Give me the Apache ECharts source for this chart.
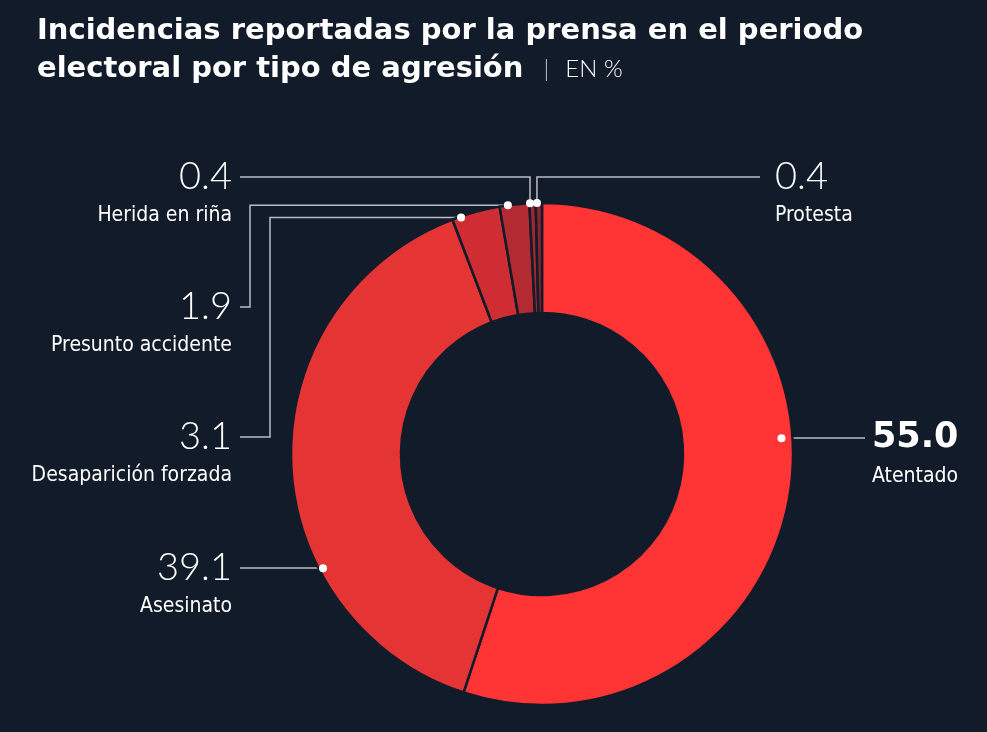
<!DOCTYPE html>
<html>
<head>
<meta charset="utf-8">
<script src="https://cdn.jsdelivr.net/npm/echarts@6/dist/echarts.min.js"></script>
<style>
  html, body { margin: 0; padding: 0; background: #111b29; }
  #chart { width: 987px; height: 732px; }
</style>
</head>
<body>
<div id="chart"></div>
<script>
// datos
var categorias = ['Atentado', 'Asesinato', 'Desaparición forzada', 'Presunto accidente', 'Herida en riña', 'Protesta'];
var valores = [55.0, 39.1, 3.1, 1.9, 0.4, 0.4];
var colores = ['#ff3535', '#e43434', '#cf2d33', '#b42a31', '#9e2730', '#8a2430'];

// geometria de la dona y posicion de etiquetas
var CX = 542, CY = 454, R_IN = 141, R_OUT = 251;
var etiquetas = [
  { side: 'right', lineY: 438, frac: 0.435, r: 240, lineEnd: 865, textX: 872 },
  { side: 'left',  lineY: 568, frac: 0.314, r: 247, lineEnd: 240, textX: 232 },
  { side: 'left',  lineY: 437, frac: 0.18,  r: 250, lineEnd: 240, textX: 232, bendX: 270 },
  { side: 'left',  lineY: 307, frac: 0.28,  r: 251, lineEnd: 240, textX: 232, bendX: 250 },
  { side: 'left',  lineY: 177, frac: 0.1,   r: 251, lineEnd: 240, textX: 232, up: true },
  { side: 'right', lineY: 177, frac: 0.2,   r: 251, lineEnd: 760, textX: 775, up: true }
];

var total = valores.reduce(function (a, b) { return a + b; }, 0);
var acumulado = [];
var suma = 0;
valores.forEach(function (v) { acumulado.push(suma); suma += v; });

function anchorValue(i) {
  return acumulado[i] + valores[i] * etiquetas[i].frac;
}
function toPixel(r, v) {
  var a = v / total * 2 * Math.PI;
  return [CX + r * Math.sin(a), CY - r * Math.cos(a)];
}

var myChart = echarts.init(document.getElementById('chart'));

var option = {
  backgroundColor: '#111b29',
  animation: false,
  title: {
    text: 'Incidencias reportadas por la prensa en el periodo\nelectoral por tipo de agresión {bar||} {s|EN %}',
    left: 37,
    top: 12,
    padding: 0,
    textStyle: {
      color: '#ffffff',
      fontSize: 29,
      fontWeight: 'bold',
      fontFamily: '"DejaVu Sans"',
      lineHeight: 38,
      rich: {
        bar: { fontSize: 24, fontWeight: 300, color: '#c9ccd1', fontFamily: 'Lato', lineHeight: 38, padding: [0, 6, 0, 10] },
        s: { fontSize: 24, fontWeight: 300, color: '#ffffff', fontFamily: 'Lato', lineHeight: 38 }
      }
    }
  },
  polar: { center: [CX, CY], radius: R_OUT },
  angleAxis: { type: 'value', min: 0, max: total, startAngle: 90, clockwise: true, show: false },
  radiusAxis: { type: 'value', min: 0, max: R_OUT, show: false },
  series: [
    {
      type: 'pie',
      center: [CX, CY],
      radius: [R_IN, R_OUT],
      startAngle: 90,
      clockwise: true,
      avoidLabelOverlap: false,
      silent: true,
      data: categorias.map(function (c, i) {
        return { name: c, value: valores[i], itemStyle: { color: colores[i] } };
      }),
      itemStyle: { borderColor: '#111b29', borderWidth: 2.5 },
      label: {
        show: true,
        position: 'outside',
        formatter: function (p) {
          var num = p.value.toFixed(1);
          return (p.dataIndex === 0 ? '{nb|' + num + '}' : '{n|' + num + '}') + '\n{c|' + p.name + '}';
        },
        rich: {
          n: { fontSize: 38, fontWeight: 300, fontFamily: 'Lato', color: '#ffffff', lineHeight: 40 },
          nb: { fontSize: 35, fontWeight: 'bold', fontFamily: '"DejaVu Sans"', color: '#ffffff', lineHeight: 40 },
          c: { fontSize: 21, fontFamily: '"DejaVu Sans Condensed", "Liberation Sans Narrow"', color: '#ffffff', lineHeight: 38 }
        }
      },
      labelLine: { show: true, length: 10, length2: 10, lineStyle: { color: '#b9bdc3', width: 1.5 } },
      labelLayout: function (p) {
        var i = p.dataIndex;
        var e = etiquetas[i];
        var a = toPixel(e.r, anchorValue(i));
        var pts;
        if (e.up) {
          pts = [[a[0], a[1]], [a[0], e.lineY], [e.lineEnd, e.lineY]];
        } else if (e.bendX) {
          pts = [[a[0], a[1]], [e.bendX, a[1]], [e.bendX, e.lineY], [e.lineEnd, e.lineY]];
        } else {
          pts = [[a[0], e.lineY], [(a[0] + e.lineEnd) / 2, e.lineY], [e.lineEnd, e.lineY]];
        }
        return {
          x: e.textX,
          y: e.lineY - 20,
          align: e.side === 'left' ? 'right' : 'left',
          verticalAlign: 'top',
          labelLinePoints: pts
        };
      }
    },
    {
      type: 'scatter',
      coordinateSystem: 'polar',
      silent: true,
      z: 10,
      symbolSize: 8,
      itemStyle: { color: '#ffffff', opacity: 1 },
      data: valores.map(function (v, i) { return [etiquetas[i].r, anchorValue(i)]; })
    }
  ]
};

myChart.setOption(option);
</script>
</body>
</html>
